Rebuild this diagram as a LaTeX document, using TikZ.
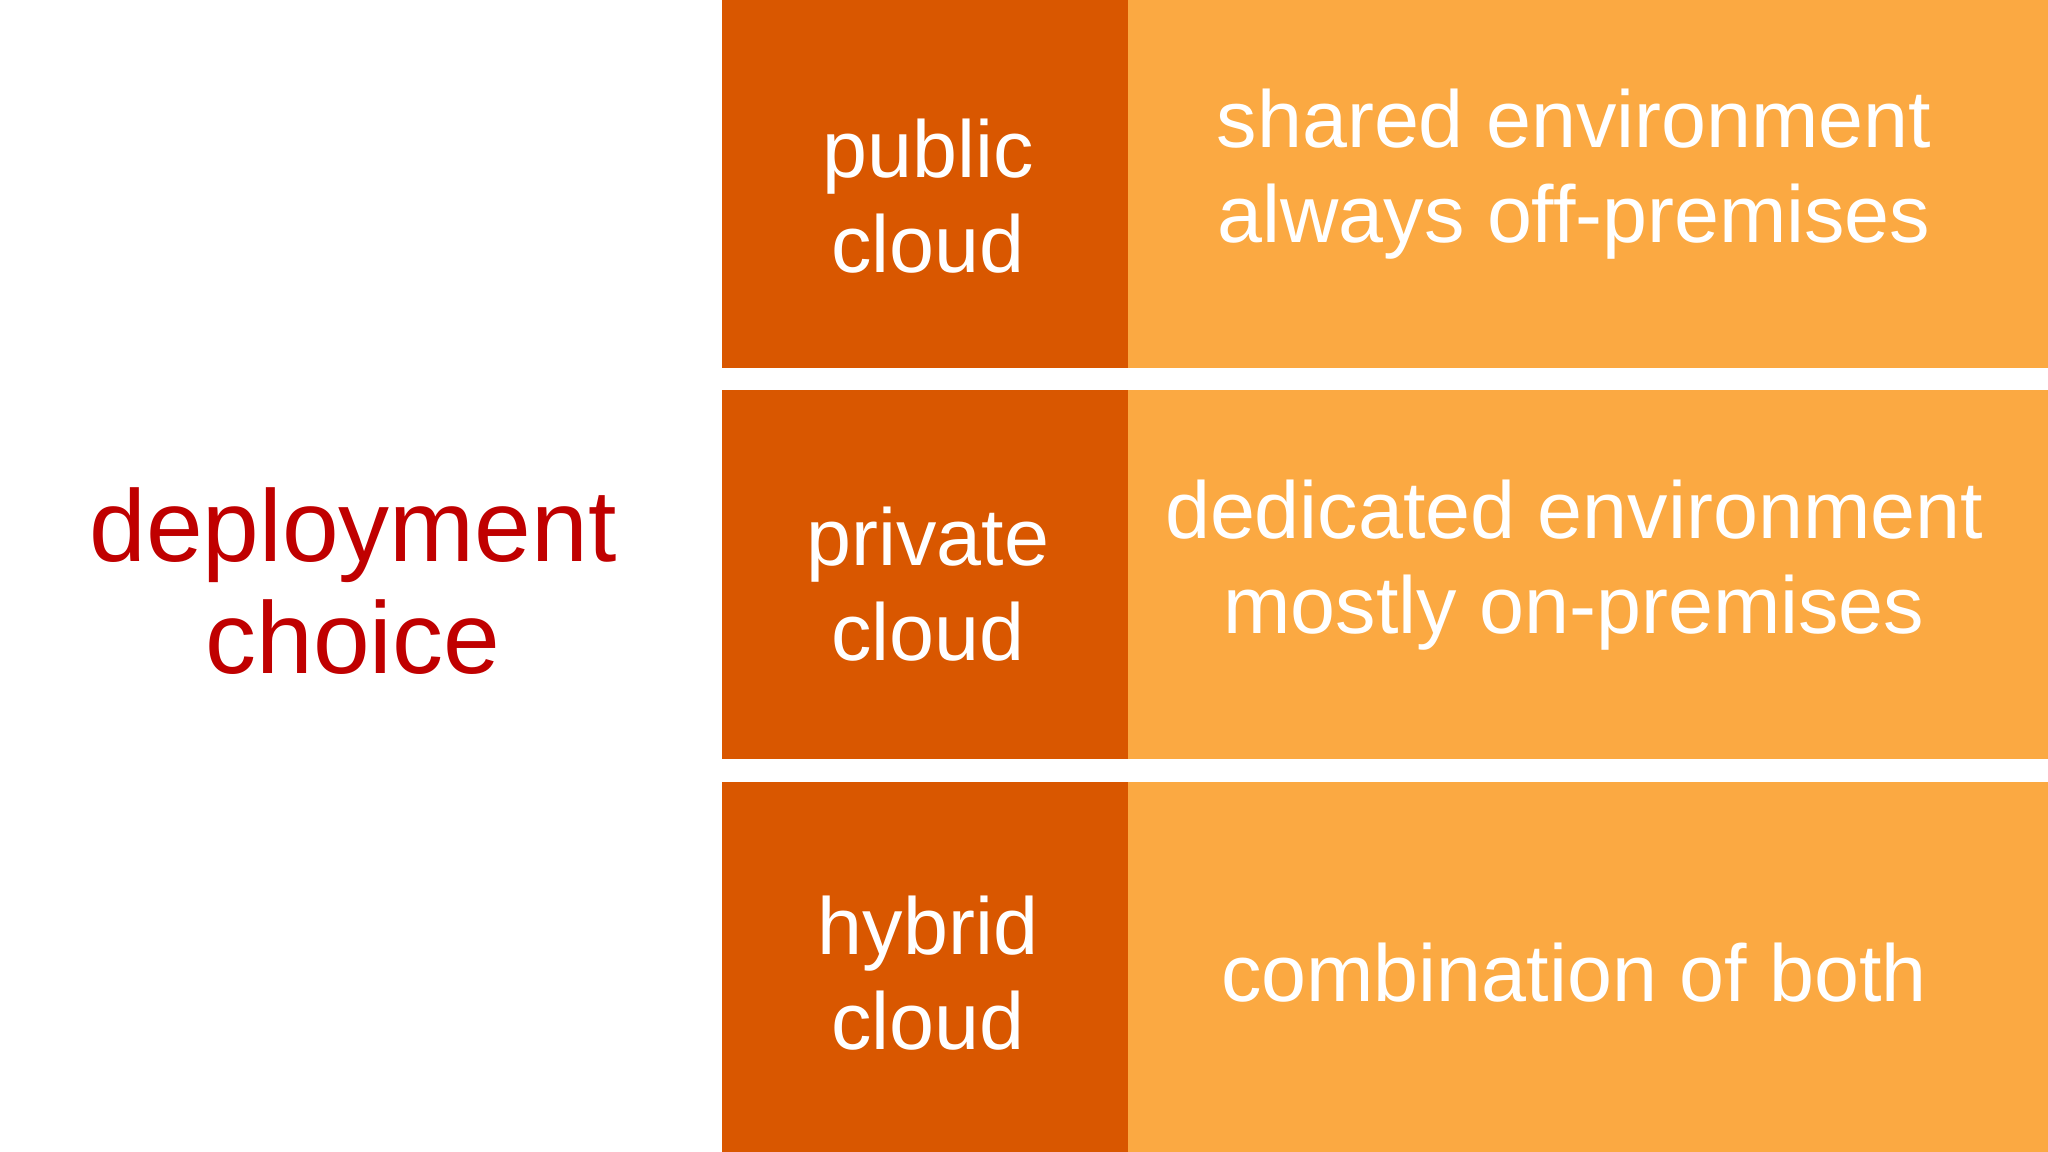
\documentclass[tikz,border=0pt]{standalone}
\usepackage{fontspec}
\setmainfont{Liberation Sans}
\definecolor{dark}{HTML}{D95700}
\definecolor{light}{HTML}{FBA942}
\definecolor{titlered}{HTML}{C00000}
\begin{document}
\begin{tikzpicture}[x=1cm,y=1cm,
  cell/.style={fill=#1,draw=none},
  lbl/.style={text=white,align=center,font=\fontsize{23}{27}\selectfont}]
\useasboundingbox (0,0) rectangle (20.48,11.52);
\fill[white] (0,0) rectangle (20.48,11.52);
\foreach \lo/\hi in {7.84/11.52, 3.93/7.62, 0/3.70}{
  \fill[dark] (7.22,\lo) rectangle (11.28,\hi);
  \fill[light] (11.28,\lo) rectangle (20.48,\hi);
}
\node[text=titlered,align=center,font=\fontsize{29}{32}\selectfont] (title) at (3.53,5.71) {deployment\\choice};
\node[lbl] (pub) at (9.28,9.56) {public\\cloud};
\node[lbl] (priv) at (9.28,5.68) {private\\cloud};
\node[lbl] (hyb) at (9.28,1.79) {hybrid\\cloud};
\node[lbl] (d1) at (15.74,9.78) {shared environment\\always off-premises};
\node[lbl] (d2) at (15.74,5.87) {dedicated environment\\mostly on-premises};
\node[lbl] (d3) at (15.74,1.79) {combination of both};
\end{tikzpicture}
\end{document}
